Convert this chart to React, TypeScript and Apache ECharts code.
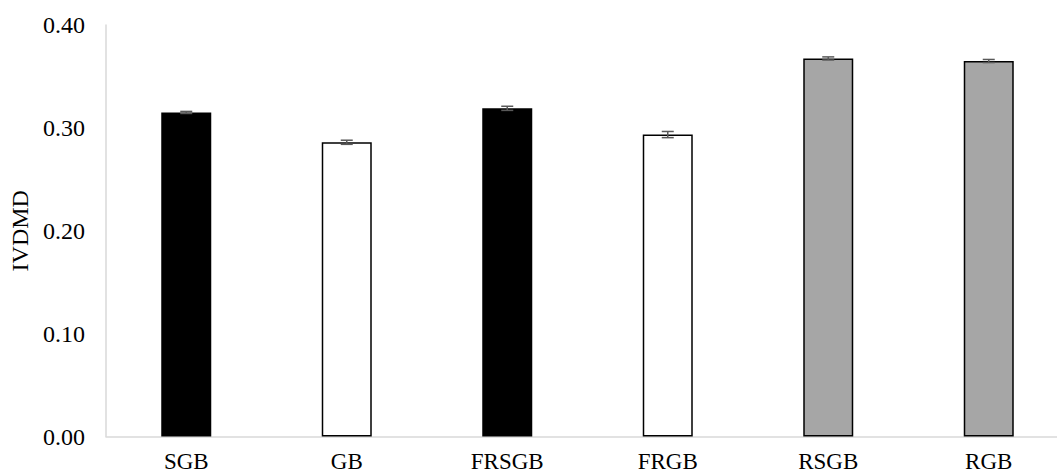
import React, { useEffect, useRef } from "react";
import * as echarts from "echarts";

const categories = ["SGB", "GB", "FRSGB", "FRGB", "RSGB", "RGB"];
const values = [0.315, 0.286, 0.319, 0.2935, 0.3675, 0.365];
const errors = [0.001, 0.002, 0.002, 0.003, 0.0015, 0.0015];
const fills = ["#000000", "#ffffff", "#000000", "#ffffff", "#a6a6a6", "#a6a6a6"];
const yTicks = [0, 0.1, 0.2, 0.3, 0.4];

const FONT = "'Liberation Serif', 'Times New Roman', serif";

export default function App() {
  const ref = useRef<HTMLDivElement>(null);
  useEffect(() => {
    if (!ref.current) return;
    const chart = echarts.init(ref.current, undefined, { renderer: "svg" });
    const errData = values.map((v, i) => [i, v - errors[i], v + errors[i]]);
    chart.setOption({
      animation: false,
      backgroundColor: "#ffffff",
      grid: {
        left: 106,
        top: 25,
        bottom: 38.5,
        right: -12,
        containLabel: false,
        outerBoundsMode: "none",
      },
      xAxis: {
        type: "category",
        data: categories,
        axisLine: { show: true, lineStyle: { color: "#d9d9d9", width: 1.5 } },
        axisTick: { show: false },
        axisLabel: {
          fontFamily: FONT,
          fontSize: 23,
          lineHeight: 18,
          color: "#000",
          margin: 16,
        },
      },
      yAxis: {
        type: "value",
        min: yTicks[0],
        max: yTicks[yTicks.length - 1],
        interval: 0.1,
        name: "IVDMD",
        nameLocation: "middle",
        nameGap: 73,
        nameTextStyle: { fontFamily: FONT, fontSize: 24, lineHeight: 20, color: "#000" },
        axisLine: { show: true, lineStyle: { color: "#d9d9d9", width: 1.5 } },
        axisTick: { show: false },
        splitLine: { show: false },
        axisLabel: {
          fontFamily: FONT,
          fontSize: 24,
          color: "#000",
          margin: 21,
          formatter: (v: number) => v.toFixed(2),
        },
      },
      series: [
        {
          type: "bar",
          barWidth: 50,
          data: values.map((v, i) => ({
            value: v,
            itemStyle: { color: fills[i], borderColor: "#000", borderWidth: 1.5 },
          })),
        },
        {
          type: "custom",
          data: errData,
          z: 10,
          renderItem: (params: any, api: any) => {
            const x = api.value(0);
            const lo = api.coord([x, api.value(1)]);
            const hi = api.coord([x, api.value(2)]);
            const hw = 6;
            const style = { stroke: "#595959", lineWidth: 1.5 };
            return {
              type: "group",
              children: [
                { type: "line", shape: { x1: lo[0], y1: lo[1], x2: hi[0], y2: hi[1] }, style },
                { type: "line", shape: { x1: lo[0] - hw, y1: lo[1], x2: lo[0] + hw, y2: lo[1] }, style },
                { type: "line", shape: { x1: hi[0] - hw, y1: hi[1], x2: hi[0] + hw, y2: hi[1] }, style },
              ],
            };
          },
        },
      ],
    });
    return () => chart.dispose();
  }, []);
  return (
    <div
      ref={ref}
      style={{ position: "absolute", left: 0, top: 0, width: 1057, height: 475 }}
    />
  );
}
